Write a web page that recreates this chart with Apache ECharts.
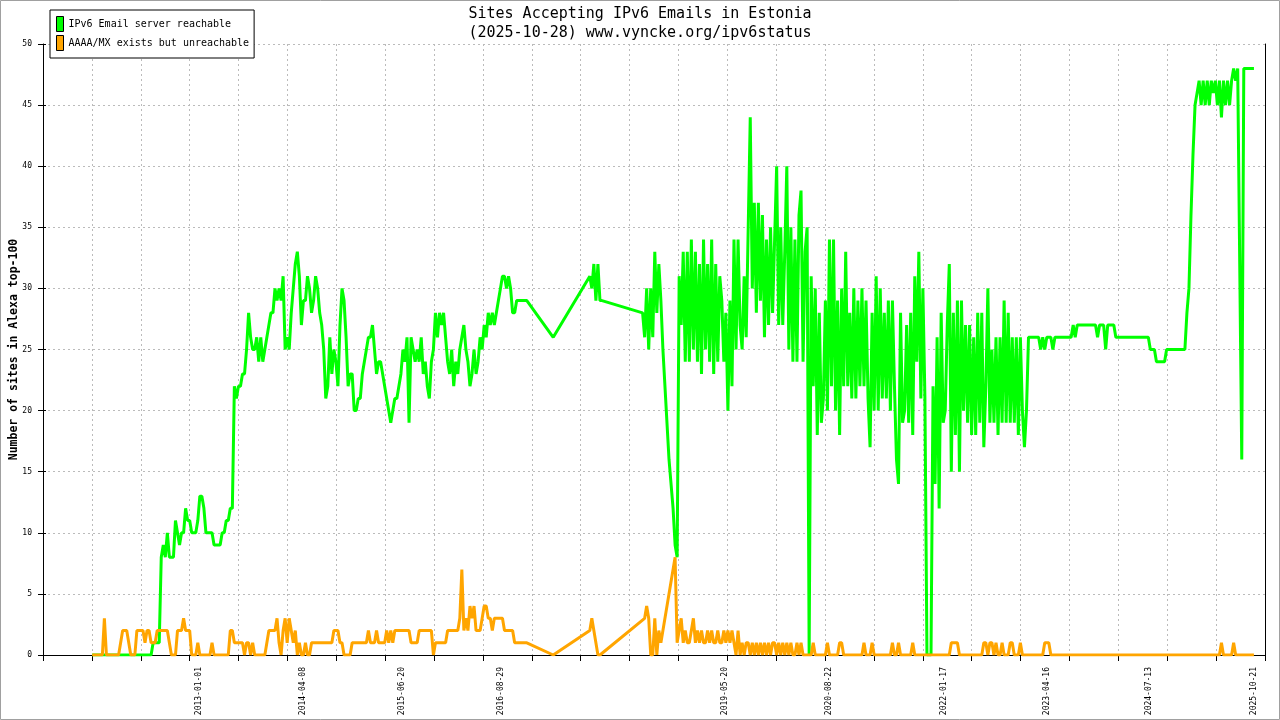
<!DOCTYPE html>
<html>
<head>
<meta charset="utf-8">
<script src="https://cdn.jsdelivr.net/npm/echarts@6/dist/echarts.min.js"></script>
<style>
html,body{margin:0;padding:0;background:#fff;}
#chart{width:1280px;height:720px;}
</style>
</head>
<body>
<div id="chart"></div>
<script>
// ---- data (one reading every 9 days, starting 2011-09-16; null = no reading) ----
const START = '2011-09-16';
const STEP_DAYS = 9;

const seriesNames = ['IPv6 Email server reachable', 'AAAA/MX exists but unreachable'];

const reachable = [
  0,0,0,0,0,0,0,0,0,0,
  0,0,0,0,0,0,0,0,0,0,
  0,0,0,0,0,0,0,0,0,0,
  1,1,1,1,8,9,8,10,8,8,
  8,11,10,9,10,10,12,11,11,10,
  10,10,11,13,13,12,10,10,10,10,
  9,9,9,9,10,10,11,11,12,12,
  22,21,22,22,23,23,25,28,26,25,
  25,26,24,26,24,25,26,27,28,28,
  30,29,30,29,31,25,26,25,28,30,
  32,33,31,27,29,29,31,30,28,29,
  31,30,28,27,25,21,22,26,23,25,
  24,22,27,30,29,26,22,23,23,20,
  20,21,21,23,24,25,26,26,27,25,
  23,24,24,23,22,21,20,19,20,21,
  21,22,23,25,24,26,19,26,25,24,
  25,24,26,23,24,22,21,24,25,28,
  26,28,27,28,26,24,23,25,22,24,
  23,25,26,27,25,24,22,23,25,23,
  24,26,25,27,26,28,27,28,27,28,
  29,30,31,31,30,31,30,28,28,29,
  29,29,29,29,29,null,null,null,null,null,
  null,null,null,null,null,null,null,26,null,null,
  null,null,null,null,null,null,null,null,null,null,
  null,null,null,null,null,31,30,32,29,32,
  29,29,null,null,null,null,null,null,null,null,
  null,null,null,null,null,null,null,null,null,null,
  null,28,26,30,25,30,26,33,28,32,
  29,25,22,19,16,14,12,9,8,31,
  27,33,24,33,24,34,25,33,24,32,
  23,34,25,32,24,34,23,32,24,31,
  29,24,28,20,29,22,34,25,34,27,
  25,31,26,35,44,30,37,28,37,29,
  36,26,34,27,35,28,34,40,27,35,
  27,33,40,25,35,24,34,24,36,38,
  24,33,35,0,31,22,30,18,28,19,
  21,29,20,34,22,34,20,29,18,30,
  22,33,22,28,21,30,21,29,22,30,
  22,29,21,17,28,20,31,20,30,21,
  28,21,29,20,29,22,16,14,28,19,
  20,27,19,28,18,31,24,33,21,30,
  21,0,0,0,22,14,26,12,28,19,
  20,27,32,15,28,18,29,15,29,20,
  27,19,27,18,26,18,28,19,28,17,
  22,30,19,25,19,26,18,26,19,29,
  19,28,19,26,19,26,18,26,20,17,
  20,26,26,26,26,26,26,25,26,25,
  26,26,26,25,26,26,26,26,26,26,
  26,26,26,27,26,27,27,27,27,27,
  27,27,27,27,27,26,27,27,27,25,
  27,27,27,27,26,26,26,26,26,26,
  26,26,26,26,26,26,26,26,26,26,
  26,25,25,25,24,24,24,24,24,25,
  25,25,25,25,25,25,25,25,25,28,
  30,36,41,45,46,47,45,47,45,47,
  45,47,46,47,45,47,44,47,45,47,
  45,47,48,47,48,32,16,48,48,48,
  48,48,48
];

const unreachable = [
  0,0,0,0,0,0,3,0,0,0,
  0,0,0,0,1,2,2,2,1,0,
  0,0,2,2,2,2,1,2,2,1,
  1,1,2,2,2,2,2,2,1,0,
  0,0,2,2,2,3,2,2,2,0,
  0,0,1,0,0,0,0,0,0,1,
  0,0,0,0,0,0,0,0,2,2,
  1,1,1,1,1,0,1,1,0,1,
  0,0,0,0,0,0,1,2,2,2,
  2,3,1,0,2,3,1,3,2,1,
  2,0,1,0,0,1,0,0,1,1,
  1,1,1,1,1,1,1,1,1,2,
  2,2,1,1,0,0,0,0,1,1,
  1,1,1,1,1,1,2,1,1,1,
  2,1,1,1,1,2,1,2,1,2,
  2,2,2,2,2,2,2,1,1,1,
  1,2,2,2,2,2,2,2,0,1,
  1,1,1,1,1,2,2,2,2,2,
  2,3,7,2,3,2,4,3,4,2,
  2,2,3,4,4,3,3,2,3,3,
  3,3,3,2,2,2,2,2,1,1,
  1,1,1,1,1,null,null,null,null,null,
  null,null,null,null,null,null,null,0,null,null,
  null,null,null,null,null,null,null,null,null,null,
  null,null,null,null,null,2,3,2,1,0,
  0,null,null,null,null,null,null,null,null,null,
  null,null,null,null,null,null,null,null,null,null,
  null,null,3,4,3,0,0,3,0,2,
  1,2,null,null,null,null,null,8,1,2,
  3,1,2,1,1,2,3,1,2,1,
  2,1,1,2,1,2,1,1,2,1,
  1,2,1,2,1,2,1,0,2,0,
  1,0,1,1,0,1,0,1,0,1,
  0,1,0,1,0,1,1,0,1,0,
  1,0,1,0,1,0,0,1,0,1,
  0,0,0,0,0,1,0,0,0,0,
  0,0,1,0,0,0,0,0,1,1,
  0,0,0,0,0,0,0,0,0,0,
  1,0,0,0,1,0,0,0,0,0,
  0,0,0,0,1,0,0,1,0,0,
  0,0,0,0,1,0,0,0,0,0,
  0,0,0,0,0,0,0,0,0,0,
  0,0,0,1,1,1,1,0,0,0,
  0,0,0,0,0,0,0,0,0,1,
  1,0,1,1,0,1,0,0,1,0,
  0,0,1,1,0,0,0,1,0,0,
  0,0,0,0,0,0,0,0,0,1,
  1,1,0,0,0,0,0,0,0,0,
  0,0,0,0,0,0,0,0,0,0,
  0,0,0,0,0,0,0,0,0,0,
  0,0,0,0,0,0,0,0,0,0,
  0,0,0,0,0,0,0,0,0,0,
  0,0,0,0,0,0,0,0,0,0,
  0,0,0,0,0,0,0,0,0,0,
  0,0,0,0,0,0,0,0,0,0,
  0,0,0,0,0,0,1,0,0,0,
  0,0,1,0,0,0,0,0,0,0,
  0,0,0
];

const xTickLabels = ['2013-01-01','2014-04-08','2015-06-20','2016-08-29','2019-05-20',
                     '2020-08-22','2022-01-17','2023-04-16','2024-07-13','2025-10-21'];
const xAxisStart = '2011-02-10';
const xAxisEnd = '2025-12-08';
const xMinorTickCount = 25;
const yMin = 0, yMax = 50, yStep = 5;

const titleLines = ['Sites Accepting IPv6 Emails in Estonia', '(2025-10-28) www.vyncke.org/ipv6status'];
const yAxisTitle = 'Number of sites in Alexa top-100';

// ---- build ----
const DAY = 86400000;
const utc = s => Date.parse(s + 'T00:00:00Z');
const t0 = utc(START);
const toPairs = arr => arr.map((v, i) => [t0 + i * STEP_DAYS * DAY, v]);
const xMin = utc(xAxisStart), xMax = utc(xAxisEnd);
const tickVals = [];
for (let k = 0; k <= xMinorTickCount; k++) tickVals.push(xMin + k * (xMax - xMin) / xMinorTickCount);
const labelVals = xTickLabels.map(utc);

const MONO = 'DejaVu Sans Mono';
const chart = echarts.init(document.getElementById('chart'), null, {renderer: 'canvas'});
chart.setOption({
  animation: false,
  backgroundColor: '#fff',
  title: {
    text: titleLines.join('\n'),
    left: 'center', top: 5, padding: 0,
    textStyle: {fontFamily: MONO, fontSize: 15, fontWeight: 'normal', color: '#000', lineHeight: 19}
  },
  legend: {
    orient: 'vertical', left: 50, top: 10,
    padding: [6, 5, 7, 6], itemGap: 3, itemWidth: 7, itemHeight: 15,
    icon: 'rect', borderColor: '#000', borderWidth: 1, borderRadius: 0, backgroundColor: '#fff',
    itemStyle: {borderColor: '#000', borderWidth: 1},
    textStyle: {fontFamily: MONO, fontSize: 10, color: '#000'},
    data: seriesNames
  },
  grid: {left: 43, right: 15, top: 44, bottom: 65, containLabel: false, outerBoundsMode: 'none'},
  xAxis: {
    type: 'value', min: xMin, max: xMax,
    axisLine: {show: true, lineStyle: {color: '#000', width: 1}},
    axisTick: {show: true, length: 6, lineStyle: {color: '#000'}, customValues: tickVals},
    axisLabel: {
      customValues: labelVals, rotate: 90, margin: 12,
      fontFamily: MONO, fontSize: 8, color: '#000',
      formatter: v => new Date(v).toISOString().slice(0, 10)
    },
    splitLine: {show: true, lineStyle: {color: '#bbb', type: [2, 3], width: 1}}
  },
  yAxis: [
    {
      type: 'value', min: yMin, max: yMax, interval: yStep, position: 'left',
      name: yAxisTitle, nameLocation: 'middle', nameGap: 23, nameRotate: 90, nameMoveOverlap: false,
      nameTextStyle: {fontFamily: MONO, fontSize: 11.5, fontWeight: 'bold', color: '#000'},
      axisLine: {show: true, lineStyle: {color: '#000', width: 1}},
      axisTick: {show: true, length: 5, lineStyle: {color: '#000'}},
      axisLabel: {fontFamily: MONO, fontSize: 8, color: '#000', margin: 11},
      splitLine: {show: true, lineStyle: {color: '#bbb', type: [2, 3], width: 1}}
    },
    {
      type: 'value', min: yMin, max: yMax, interval: yStep, position: 'right',
      axisLine: {show: true, lineStyle: {color: '#000', width: 1}},
      axisTick: {show: false}, axisLabel: {show: false}, splitLine: {show: false}
    },
    {
      type: 'value', min: yMin, max: yMax, interval: yStep, position: 'left',
      axisLine: {show: false},
      axisTick: {show: true, inside: true, length: 3, lineStyle: {color: '#000'}},
      axisLabel: {show: false}, splitLine: {show: false}
    }
  ],
  series: [
    {
      name: seriesNames[0], type: 'line', data: toPairs(reachable),
      showSymbol: false, symbol: 'none', connectNulls: true,
      color: '#00ff00',
      lineStyle: {color: '#00ff00', width: 3, join: 'bevel'}
    },
    {
      name: seriesNames[1], type: 'line', data: toPairs(unreachable),
      showSymbol: false, symbol: 'none', connectNulls: true,
      color: '#ffa500',
      lineStyle: {color: '#ffa500', width: 3, join: 'bevel'}
    }
  ],
  graphic: [{
    type: 'rect', silent: true, z: 100,
    shape: {x: 0.5, y: 0.5, width: 1279, height: 719},
    style: {fill: 'none', stroke: '#a0a0a0', lineWidth: 1}
  }]
});
</script>
</body>
</html>
